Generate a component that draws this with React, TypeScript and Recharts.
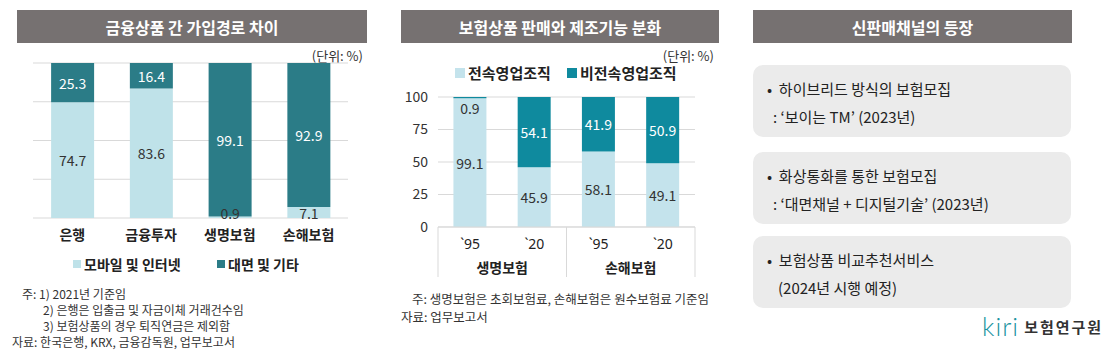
import React from 'react'
import { BarChart, Bar, XAxis, YAxis, CartesianGrid, LabelList } from 'recharts'

// 금융상품 간 가입경로 차이
const channels = ['은행', '금융투자', '생명보험', '손해보험']
const mobileShare = [74.7, 83.6, 0.9, 7.1]
const faceShare = [25.3, 16.4, 99.1, 92.9]
const channelSeries = ['모바일 및 인터넷', '대면 및 기타']

// 보험상품 판매와 제조기능 분화
const sectors = ['생명보험', '생명보험', '손해보험', '손해보험']
const years = ['`95', '`20', '`95', '`20']
const exclusive = [99.1, 45.9, 58.1, 49.1]
const nonExclusive = [0.9, 54.1, 41.9, 50.9]
const orgSeries = ['전속영업조직', '비전속영업조직']
const pctTicks = [0, 25, 50, 75, 100]

const notes1 = ['주: 1) 2021년 기준임', '2) 은행은 입출금 및 자금이체 거래건수임', '3) 보험상품의 경우 퇴직연금은 제외함', '자료: 한국은행, KRX, 금융감독원, 업무보고서']
const notes2 = ['주: 생명보험은 초회보험료, 손해보험은 원수보험료 기준임', '자료: 업무보고서']
const cards = [
  ['하이브리드 방식의 보험모집', ": ‘보이는 TM’ (2023년)"],
  ['화상통화를 통한 보험모집', ": ‘대면채널 + 디지털기술’ (2023년)"],
  ['보험상품 비교추천서비스', '(2024년 시행 예정)'],
]

const FONT = '"Noto Sans CJK KR", "Noto Sans", sans-serif'
const TITLE_BG = '#767171'
const C1_LIGHT = '#bfe2e9', C1_DARK = '#2b7c87'
const C2_LIGHT = '#c4e3ec', C2_DARK = '#0f8a9e'

const data1 = channels.map((c, i) => ({ name: c, mobile: mobileShare[i], face: faceShare[i] }))
const data2 = years.map((y, i) => ({ year: y, sector: sectors[i], excl: exclusive[i], nonExcl: nonExclusive[i] }))

const C2_W = 330, C2_YW = 58, C2_RIGHT = 15
const BAND = (C2_W - C2_YW - C2_RIGHT) / data2.length

const valueLabel = (color: string) => (p: any) => {
  const { x, y, width, height, value } = p
  const dark = color === '#fff'
  // tiny top segments: label sits just under the bar top; tiny bottom ones sit on the baseline
  let ly = y + height / 2
  if (dark && value < 3) ly = y + height + 10
  else if (!dark && height < 14) ly = y + height - 5
  return (
    <text x={x + width / 2} y={ly} fill={dark && value < 3 ? '#333' : color}
      fontSize={14} textAnchor="middle" dominantBaseline="central" fontFamily={FONT}>
      {value.toFixed(1)}
    </text>
  )
}

const YearTick = (p: any) => {
  const { x, y, payload } = p
  const i = payload.index
  const last = i === data2.length - 1
  return (
    <g>
      <text x={x} y={y + 16} textAnchor="middle" dominantBaseline="central" fontSize={14} fill="#222" fontFamily='"Noto Sans", sans-serif'>{payload.value}</text>
      {i % 2 === 0 && (
        <>
          <line x1={x - BAND / 2} x2={x - BAND / 2} y1={y} y2={y + 50} stroke="#d9d9d9" />
          <text x={x + BAND / 2} y={y + 40} textAnchor="middle" dominantBaseline="central" fontSize={14} fontWeight={700} fill="#222" fontFamily={FONT}>{data2[i].sector}</text>
        </>
      )}
      {last && <line x1={x + BAND / 2} x2={x + BAND / 2} y1={y} y2={y + 50} stroke="#d9d9d9" />}
    </g>
  )
}

const Title = ({ left, width, text }: { left: number; width: number; text: string }) => (
  <div style={{ position: 'absolute', left, top: 10, width, height: 33, background: TITLE_BG, color: '#fff', fontSize: 16, fontWeight: 700, display: 'flex', alignItems: 'center', justifyContent: 'center' }}>{text}</div>
)

const Swatch = ({ left, top, color, text, size, fs }: any) => (
  <div style={{ position: 'absolute', left, top, display: 'flex', alignItems: 'center', fontSize: fs, fontWeight: 700, color: '#222', whiteSpace: 'nowrap' }}>
    <span style={{ width: size, height: size, background: color, marginRight: 3, display: 'inline-block' }} />
    {text}
  </div>
)

export default function App() {
  return (
    <div style={{ position: 'absolute', left: 0, top: 0, width: 1109, height: 360, background: '#fff', fontFamily: FONT, overflow: 'hidden' }}>
      {/* panel 1 */}
      <Title left={17} width={350} text="금융상품 간 가입경로 차이" />
      <div style={{ position: 'absolute', right: 1109 - 363, top: 46, fontSize: 13, color: '#333' }}>(단위: %)</div>
      <div style={{ position: 'absolute', left: 0, top: 0 }}>
        <BarChart width={370} height={250} data={data1} margin={{ top: 63, right: 22, left: 33, bottom: 0 }} barCategoryGap="23%">
          <CartesianGrid horizontal vertical={false} stroke="#d9d9d9" />
          <YAxis hide domain={[0, 100]} ticks={pctTicks} />
          <XAxis dataKey="name" height={32} axisLine={false} tickLine={false} tickSize={0} tickMargin={12}
            tick={{ fill: '#222', fontSize: 14, fontWeight: 700, fontFamily: FONT }} />
          <Bar dataKey="mobile" stackId="a" fill={C1_LIGHT} isAnimationActive={false}>
            <LabelList dataKey="mobile" content={valueLabel('#333')} />
          </Bar>
          <Bar dataKey="face" stackId="a" fill={C1_DARK} isAnimationActive={false}>
            <LabelList dataKey="face" content={valueLabel('#fff')} />
          </Bar>
        </BarChart>
      </div>
      <Swatch left={73} top={254} color={C1_LIGHT} text={channelSeries[0]} size={8} fs={14} />
      <Swatch left={217} top={254} color={C1_DARK} text={channelSeries[1]} size={8} fs={14} />
      <div style={{ position: 'absolute', left: 12, top: 286, fontSize: 12, color: '#333' }}>
        {notes1.map((t, i) => (
          <div key={i} style={{ paddingLeft: i === 0 ? 10 : i === 3 ? 0 : 31, whiteSpace: 'nowrap', height: 16, lineHeight: '16px' }}>{t}</div>
        ))}
      </div>

      {/* panel 2 */}
      <Title left={401} width={318} text="보험상품 판매와 제조기능 분화" />
      <div style={{ position: 'absolute', right: 1109 - 714, top: 46, fontSize: 13, color: '#333' }}>(단위: %)</div>
      <Swatch left={455} top={62} color={C2_LIGHT} text={orgSeries[0]} size={10} fs={15} />
      <Swatch left={567} top={62} color={C2_DARK} text={orgSeries[1]} size={10} fs={15} />
      <div style={{ position: 'absolute', left: 380, top: 0 }}>
        <BarChart width={C2_W} height={290} data={data2} margin={{ top: 97, right: C2_RIGHT, left: 0, bottom: 0 }} barCategoryGap="24%">
          <CartesianGrid horizontal vertical={false} stroke="#d9d9d9" />
          <YAxis width={C2_YW} domain={[0, 100]} ticks={pctTicks} axisLine={false} tickLine={false} tickMargin={4}
            tick={{ fill: '#333', fontSize: 14, fontFamily: FONT }} />
          <XAxis dataKey="year" height={63} axisLine={{ stroke: '#d9d9d9' }} tickLine={false} tickSize={0} tickMargin={0}
            interval={0} tick={<YearTick />} />
          <Bar dataKey="excl" stackId="b" fill={C2_LIGHT} isAnimationActive={false}>
            <LabelList dataKey="excl" content={valueLabel('#333')} />
          </Bar>
          <Bar dataKey="nonExcl" stackId="b" fill={C2_DARK} isAnimationActive={false}>
            <LabelList dataKey="nonExcl" content={valueLabel('#fff')} />
          </Bar>
        </BarChart>
      </div>
      <div style={{ position: 'absolute', left: 401, top: 290, fontSize: 12.5, color: '#333' }}>
        {notes2.map((t, i) => (
          <div key={i} style={{ paddingLeft: i === 0 ? 11 : 0, whiteSpace: 'nowrap', height: 18, lineHeight: '18px' }}>{t}</div>
        ))}
      </div>

      {/* panel 3 */}
      <Title left={753} width={319} text="신판매채널의 등장" />
      {cards.map((c, i) => (
        <div key={i} style={{ position: 'absolute', left: 753, top: [65, 152, 236][i], width: 318, height: 72, background: '#ebebeb', borderRadius: 10, fontSize: 15, color: '#222' }}>
          <div style={{ position: 'absolute', left: 14, top: 13, whiteSpace: 'nowrap' }}>•&nbsp;&nbsp;{c[0]}</div>
          <div style={{ position: 'absolute', left: i === 2 ? 25 : 20, top: 41, whiteSpace: 'nowrap' }}>{c[1]}</div>
        </div>
      ))}
      <div style={{ position: 'absolute', left: 982, top: 310, display: 'flex', alignItems: 'center', whiteSpace: 'nowrap' }}>
        <span style={{ color: '#1a93a0', fontSize: 26, fontWeight: 300, letterSpacing: 1, fontFamily: 'Lato, sans-serif' }}>kiri</span>
        <span style={{ color: '#333', fontSize: 15, fontWeight: 700, marginLeft: 5, letterSpacing: 2 }}>보험연구원</span>
      </div>
    </div>
  )
}
